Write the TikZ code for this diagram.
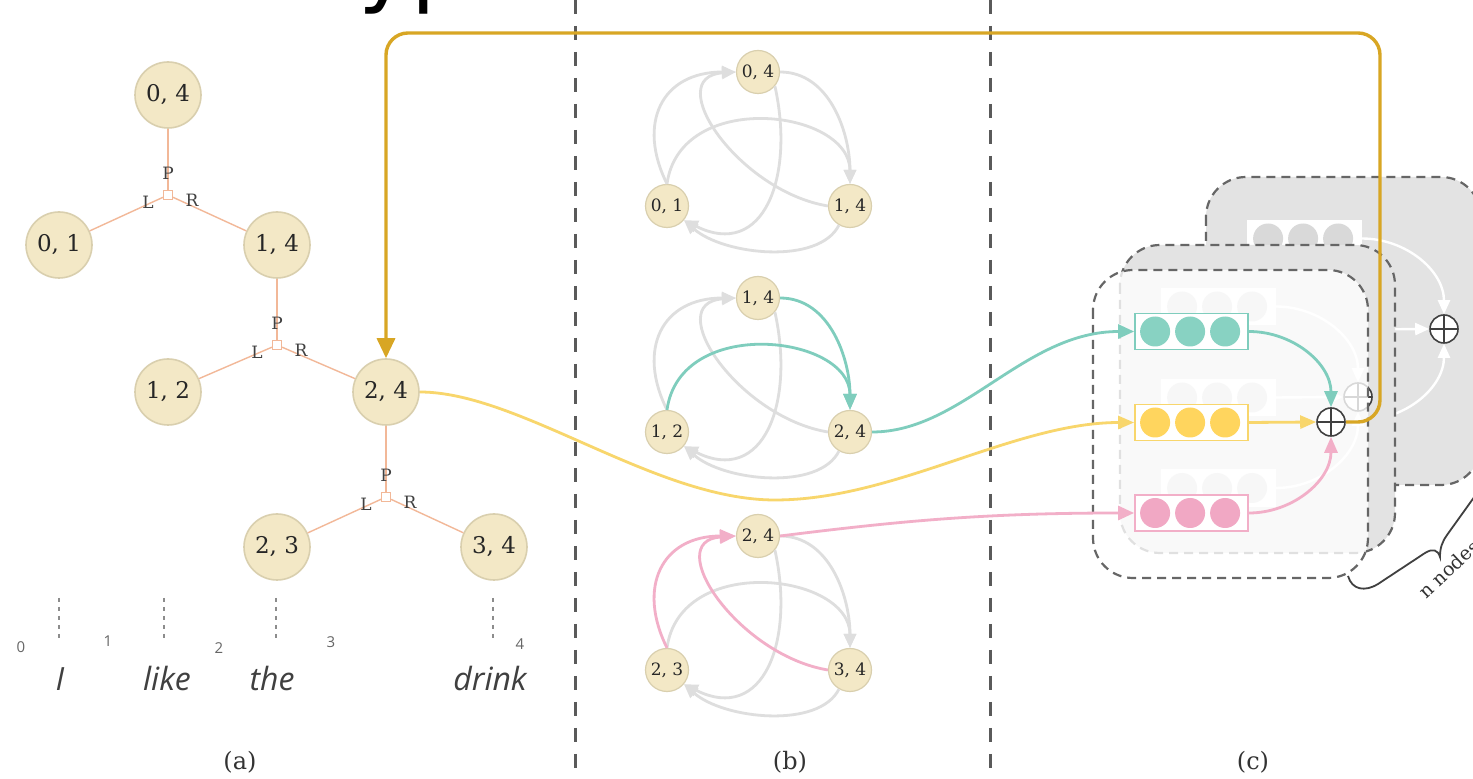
\documentclass[tikz,border=0pt]{standalone}
\usepackage{fontspec}
\setmainfont{DejaVu Serif}
\newfontfamily\wordfont{Open Sans}
\newfontfamily\bigsans{DejaVu Sans}
\usetikzlibrary{arrows.meta,calc}
\definecolor{nodefill}{HTML}{F3E8C6}
\definecolor{nodeline}{HTML}{D9CFAE}
\definecolor{salmon}{HTML}{F2B898}
\definecolor{edgegray}{HTML}{DEDEDE}
\definecolor{cteal}{HTML}{7FCDBD}
\definecolor{ctealfill}{HTML}{88D2C2}
\definecolor{cyel}{HTML}{F8D66C}
\definecolor{cyelfill}{HTML}{FFD55E}
\definecolor{cpink}{HTML}{F2AFC8}
\definecolor{cpinkfill}{HTML}{F1A8C4}
\definecolor{cgold}{HTML}{D8A624}
\definecolor{sepgray}{HTML}{5A5A5A}
\definecolor{boxgray}{HTML}{E3E3E3}
\definecolor{dashgray}{HTML}{666666}
\definecolor{dotgray}{HTML}{D9D9D9}
\newcommand\vecrow[5]{%
  \node[vecbox, draw=#3, fill=#5] (#1) at #2 {};
  \foreach \k/\dx in {1/21,2/56,3/91}{\node[dotc, fill=#4] (#1\k) at ($(#1.west)+(\dx,0)$) {};}
}
\newcommand\ghostlayer[3]{%
  \begin{scope}[shift={(#2,#3)}]
    \draw[layerbox, fill=boxgray] (1093,270) rectangle (1368,578);
    \vecrow{#1t}{(1191.5,331.5)}{white}{dotgray}{white}
    \vecrow{#1y}{(1191.5,422.5)}{white}{dotgray}{white}
    \vecrow{#1p}{(1191.5,513)}{white}{dotgray}{white}
    \node[oplus] (#1o) at (1331,422) {};
    \draw[ghostarrow] (#1t.east) to[out=0,in=90] (#1o.north);
    \draw[ghostarrow] (#1y.east) -- (#1o.west);
    \draw[ghostarrow] (#1p.east) to[out=0,in=-90] (#1o.south);
  \end{scope}
}
\newcommand\eLT[2]{\draw[#2] (#1l.north) .. controls +(-30,-60) and +(-75,0) .. (#1t.west);}
\newcommand\eRT[2]{\draw[#2] (#1r.west) .. controls +(-90,-15) and +(-75,5) .. (#1t.west);}
\newcommand\eTR[2]{\draw[#2] (#1t.east) .. controls +(50,0) and +(0,-50) .. (#1r.north);}
\newcommand\eLR[2]{\draw[#2] (#1l.north) .. controls +(13,-95) and +(0,-75) .. (#1r.north);}
\newcommand\eRL[2]{\draw[#2] (#1r.-120) .. controls +(-20,40) and +(40,35) .. (#1l.-40);}
\newcommand\eTL[2]{\draw[#2] (#1t.-40) .. controls +(20,90) and +(80,40) .. (#1l.-40);}
\newcommand\bgraph[5]{%
  \node[gnode] (#1t) at (758,72+#2) {#3};
  \node[gnode] (#1l) at (667,206+#2) {#4};
  \node[gnode] (#1r) at (850,206+#2) {#5};
}
\begin{document}
\begin{tikzpicture}[x=0.5pt,y=-0.5pt,
  tnode/.style={circle, fill=nodefill, draw=nodeline, line width=0.8pt, minimum size=33pt, inner sep=0pt, font=\fontsize{11.5}{12}\selectfont, text=black!85},
  gnode/.style={circle, fill=nodefill, draw=nodeline, line width=0.6pt, minimum size=21.5pt, inner sep=0pt, font=\fontsize{8.5}{9}\selectfont, text=black!85},
  junc/.style={rectangle, draw=salmon, fill=white, line width=0.6pt, minimum size=4.5pt, inner sep=0pt},
  tedge/.style={draw=salmon, line width=0.7pt},
  plr/.style={font=\fontsize{8.5}{9}\selectfont, text=black!75, inner sep=0pt},
  gedge/.style={draw=edgegray, line width=1.4pt, -{Triangle[length=7pt,width=6pt]}},
  tealedge/.style={draw=cteal, line width=1.4pt, -{Triangle[length=8pt,width=6.5pt]}},
  pinkedge/.style={draw=cpink, line width=1.4pt, -{Triangle[length=8pt,width=6.5pt]}},
  yeledge/.style={draw=cyel, line width=1.4pt, -{Triangle[length=8pt,width=6.5pt]}},
  sepline/.style={draw=sepgray, line width=1.5pt, dash pattern=on 7pt off 6pt},
  layerbox/.style={draw=dashgray, line width=1.1pt, dash pattern=on 4.5pt off 3pt, rounded corners=20pt},
  vecbox/.style={rectangle, minimum width=56.5pt, minimum height=18pt, inner sep=0pt, line width=0.9pt},
  dotc/.style={circle, minimum size=15pt, inner sep=0pt},
  oplus/.style={circle, draw=black!75, fill=white, line width=0.8pt, minimum size=14pt, inner sep=0pt,
    path picture={\draw[black!75, line width=0.8pt] (path picture bounding box.north) -- (path picture bounding box.south) (path picture bounding box.west) -- (path picture bounding box.east);}},
  ghostarrow/.style={draw=white, line width=1.2pt, -{Triangle[length=7pt,width=6pt]}},
  goldline/.style={draw=cgold, line width=1.7pt, rounded corners=11pt, -{Triangle[length=10pt,width=9pt]}},
  dotline/.style={draw=black!45, line width=1pt, dash pattern=on 2pt off 2.5pt},
  numlab/.style={font=\wordfont\fontsize{7.5}{8}\selectfont, text=black!60, inner sep=0pt},
  wordlab/.style={font=\wordfont\itshape\fontsize{16}{18}\selectfont, text=black!75, inner sep=0pt, anchor=base},
  panellab/.style={font=\fontsize{12}{14}\selectfont, text=black!80, inner sep=0pt}
]
\fill[white] (0,0) rectangle (1473,779);
\useasboundingbox (0,0) rectangle (1473,779);

% cropped title glyphs at the top edge
\node[font=\bigsans\fontsize{45}{50}\selectfont, inner sep=0pt, anchor=base west] (title) at (358,-4) {yp};

% separators
\draw[sepline] (575,0) -- (575,779);
\draw[sepline] (990,0) -- (990,779);

% ---------- panel (a) ----------
\node[tnode] (n04) at (168,95) {0, 4};
\node[tnode] (n01) at (59,245) {0, 1};
\node[tnode] (n14) at (277,245) {1, 4};
\node[tnode] (n12) at (168,392) {1, 2};
\node[tnode] (n24) at (386,392) {2, 4};
\node[tnode] (n23) at (277,547) {2, 3};
\node[tnode] (n34) at (494,547) {3, 4};
\node[junc] (j1) at (168,195) {};
\node[junc] (j2) at (277,345) {};
\node[junc] (j3) at (386,497) {};
\draw[tedge] (n04) -- (j1);
\draw[tedge] (j1) -- (n01);
\draw[tedge] (j1) -- (n14);
\draw[tedge] (n14) -- (j2);
\draw[tedge] (j2) -- (n12);
\draw[tedge] (j2) -- (n24);
\draw[tedge] (n24) -- (j3);
\draw[tedge] (j3) -- (n23);
\draw[tedge] (j3) -- (n34);
\foreach \j in {1,2,3}{
  \node[plr] (p\j) at ($(j\j)+(0,-22)$) {P};
  \node[plr] (l\j) at ($(j\j)+(-20,7)$) {L};
  \node[plr] (r\j) at ($(j\j)+(24,5)$) {R};
}
\draw[dotline] (59,598) -- (59,638);
\draw[dotline] (164,598) -- (164,638);
\draw[dotline] (276,598) -- (276,638);
\draw[dotline] (493,598) -- (493,638);
\node[numlab] (k0) at (21,647) {0};
\node[numlab] (k1) at (108,641) {1};
\node[numlab] (k2) at (219,648) {2};
\node[numlab] (k3) at (331,642) {3};
\node[numlab] (k4) at (520,644) {4};
\node[wordlab] (w1) at (60,691) {I};
\node[wordlab] (w2) at (167,691) {like};
\node[wordlab] (w3) at (272,691) {the};
\node[wordlab] (w4) at (490,691) {drink};
\node[panellab] (la) at (240,762) {(a)};

% ---------- panel (b) ----------
\bgraph{g1}{0}{0, 4}{0, 1}{1, 4}
\bgraph{g2}{226}{1, 4}{1, 2}{2, 4}
\bgraph{g3}{464}{2, 4}{2, 3}{3, 4}
\foreach \g in {g1,g2}{\eRL{\g}{gedge}\eTL{\g}{gedge}\eLT{\g}{gedge}\eRT{\g}{gedge}}
\eTR{g1}{gedge}\eLR{g1}{gedge}
\eTR{g2}{tealedge}\eLR{g2}{tealedge}
\eRL{g3}{gedge}\eTL{g3}{gedge}\eTR{g3}{gedge}\eLR{g3}{gedge}
\eLT{g3}{pinkedge}\eRT{g3}{pinkedge}
\node[panellab] (lb) at (790,762) {(b)};

% ---------- panel (c) ----------
\ghostlayer{bk}{113}{-93}
\ghostlayer{md}{27}{-25}
\draw[layerbox, fill=white, fill opacity=0.8] (1093,270) rectangle (1368,578);
\vecrow{tb}{(1191.5,331.5)}{cteal}{ctealfill}{white}
\vecrow{yb}{(1191.5,422.5)}{cyel}{cyelfill}{white}
\vecrow{pb}{(1191.5,513)}{cpink}{cpinkfill}{white}
\node[oplus] (fo) at (1331,422) {};
\draw[tealedge] (tb.east) to[out=0,in=90] (fo.north);
\draw[yeledge] (yb.east) -- (fo.west);
\draw[pinkedge] (pb.east) to[out=0,in=-90] (fo.south);
\node[panellab] (lc) at (1253,762) {(c)};

% brace and label
\draw[black!75, line width=0.9pt] (1348,576) .. controls (1352,590) and (1365,592) .. (1378,584) -- (1425,553) .. controls (1433,548) and (1438,550) .. (1440,557) .. controls (1440,548) and (1442,542) .. (1447,535) -- (1485,482);
\node[font=\fontsize{9.5}{10}\selectfont, text=black!80, inner sep=0pt, anchor=base west, rotate=43] (nn) at (1426,600) {n nodes};

% ---------- connectors between panels ----------
\coordinate (ydip) at (775,500);
\draw[yeledge] (n24.east) .. controls +(100,0) and +(-120,0) .. (ydip) .. controls +(120,0) and +(-120,0) .. (yb.west);
\draw[tealedge, -{Triangle[length=8pt,width=7pt]}] (g2r.east) .. controls +(90,0) and +(-110,0) .. (tb.west);
\draw[pinkedge, -{Triangle[length=8pt,width=7pt]}] (g3t.east) .. controls +(120,-15) and +(-150,0) .. (pb.west);
\draw[goldline] (fo.east) -| (1380,33) -| (n24.north);
\end{tikzpicture}
\end{document}
